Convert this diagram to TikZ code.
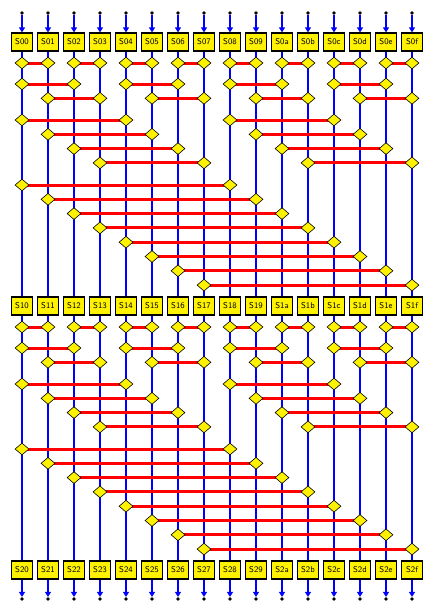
\documentclass[tikz,border=0pt]{standalone}
\usepackage{tikz}
\usepackage{xcolor}
\usetikzlibrary{arrows.meta}
\usetikzlibrary{shapes.geometric}
\usetikzlibrary{positioning}
\pgfdeclarelayer{wires}
\pgfdeclarelayer{links}
\pgfsetlayers{wires,links,main}

\begin{document}
\begin{tikzpicture}[x=1pt, y=-1pt,
    stagebox/.style={draw, line width=1.2pt, fill=yellow, minimum width=21pt,
      minimum height=18pt, inner sep=0pt, font=\sffamily\fontsize{8.5}{9}\selectfont},
    swap/.style={diamond, draw, line width=0.6pt, fill=yellow, minimum width=14pt,
      minimum height=12pt, inner sep=0pt},
    pin/.style={circle, fill=black, minimum size=3.8pt, inner sep=0pt},
    wire/.style={blue, line width=1.1pt},
    link/.style={red, line width=3pt}]
    \useasboundingbox (0,0) rectangle (436,613);

    % Boxes and wires
    \foreach \i/\h in {0/0,1/1,2/2,3/3,4/4,5/5,6/6,7/7,8/8,9/9,10/a,11/b,12/c,13/d,14/e,15/f}
      {
      \node[pin] (T\h) at (22+26*\i, 13) {};
      \node[stagebox] (S0\h) at (22+26*\i, 42) {S0\h};
      \node[stagebox] (S1\h) at (22+26*\i, 306) {S1\h};
      \node[stagebox] (S2\h) at (22+26*\i, 570) {S2\h};
      \node[pin] (B\h) at (22+26*\i, 599) {};
      \begin{pgfonlayer}{wires}
        \draw[wire, -{Triangle[width=6pt,length=5pt]}] (T\h) -- (S0\h);
        \draw[wire] (S0\h) -- (S1\h);
        \draw[wire] (S1\h) -- (S2\h);
        \draw[wire, -{Triangle[width=6pt,length=5pt]}] (S2\h) -- (B\h);
      \end{pgfonlayer}
      }

    % Exchanges
    \foreach \s/\yo in {0/0, 1/264}
      \foreach \d/\ys in {1/63, 2/84, 4/120, 8/185}
        {
        \pgfmathtruncatemacro\nrow{\d-1}
        \pgfmathtruncatemacro\npair{8/\d-1}
        \foreach \j in {0,...,\nrow}
          \foreach \k in {0,...,\npair}
            {
            \pgfmathtruncatemacro\a{2*\d*\k+\j}
            \pgfmathtruncatemacro\b{\a+\d}
            \node[swap] (D\s-\a-\b) at (22+26*\a, \yo+\ys+14.3*\j) {};
            \node[swap] (D\s-\b-\a) at (22+26*\b, \yo+\ys+14.3*\j) {};
            \begin{pgfonlayer}{links}
              \draw[link] (D\s-\a-\b.center) -- (D\s-\b-\a.center);
            \end{pgfonlayer}
            }
        }
\end{tikzpicture}
\end{document}
